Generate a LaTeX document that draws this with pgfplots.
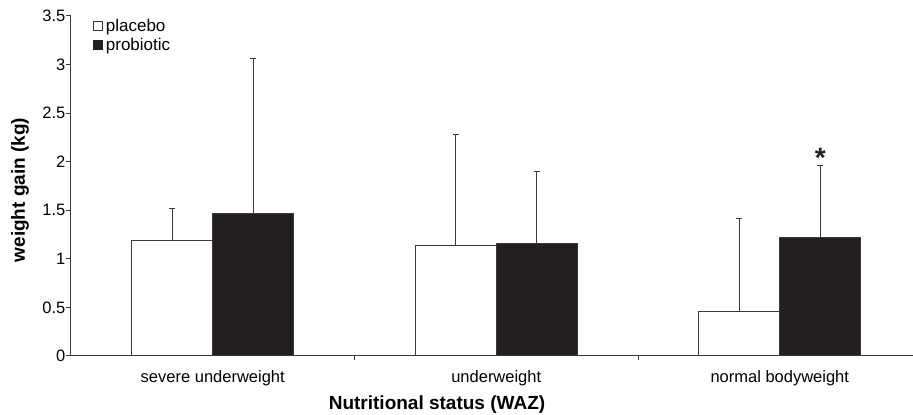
\documentclass[border=0pt]{standalone}
\usepackage{pgfplots}
\pgfplotsset{compat=1.18}
\usepackage{fontspec}
\setmainfont{Liberation Sans}
\definecolor{dk}{HTML}{231F20}
\definecolor{ax}{HTML}{3A3A3A}
\begin{document}
\begin{tikzpicture}
\begin{axis}[
  scale only axis, width=842pt, height=340pt,
  xmin=-0.5, xmax=2.47, ymin=0, ymax=3.5,
  axis x line=bottom, axis y line=left,
  axis line style={-, ax, line width=1pt},
  ytick={0,0.5,1,1.5,2,2.5,3,3.5},
  xtick={0.5,1.5}, xticklabels={},
  extra x ticks={0,1,2},
  extra x tick labels={severe underweight, underweight, normal bodyweight},
  extra x tick style={major tick length=0pt, tick label style={yshift=-11pt}},
  tick align=outside, major tick length=4.5pt,
  tick style={ax, line width=1pt},
  /pgf/number format/assume math mode=true,
  ticklabel style={font=\fontsize{16.5}{19}\selectfont},
  yticklabel style={inner xsep=1pt},
  ybar=0pt, bar width=81pt,
  legend style={at={(rel axis cs:0.026,0.992)}, anchor=north west, draw=none, fill=none,
    inner sep=0pt, row sep=5pt, font=\fontsize{17}{19}\selectfont,
    nodes={inner xsep=3pt, inner ysep=0pt}},
  legend cell align=left,
]
\addplot[fill=white, draw=ax, line width=1pt,
  legend image code/.code={\draw[ax, fill=white, line width=0.8pt] (0pt,-4.5pt) rectangle (9pt,4.5pt);},
  error bars/.cd, y dir=plus, y explicit, error mark=-,
  error bar style={line width=1pt, ax},
  error mark options={rotate=90, ax, line width=1pt, mark size=3pt}]
  coordinates {(0,1.187) +- (0,0.327) (1,1.133) +- (0,1.147) (2,0.453) +- (0,0.961)};
\addlegendentry{placebo}
\addplot[fill=dk, draw=ax, line width=1pt,
  legend image code/.code={\draw[dk, fill=dk, line width=0.8pt] (0pt,-4.5pt) rectangle (9pt,4.5pt);},
  error bars/.cd, y dir=plus, y explicit, error mark=-,
  error bar style={line width=1pt, ax},
  error mark options={rotate=90, ax, line width=1pt, mark size=3pt}]
  coordinates {(0,1.465) +- (0,1.595) (1,1.157) +- (0,0.743) (2,1.218) +- (0,0.742)};
\addlegendentry{probiotic}
\node[anchor=base, font=\fontsize{28}{28}\selectfont\bfseries, text=dk, inner sep=0pt] at ([xshift=40.5pt]axis cs:2,1.94) {*};
\coordinate (BL) at (rel axis cs:0,0);
\coordinate (TR) at (rel axis cs:1,1);
\end{axis}
\node[font=\fontsize{19}{22}\selectfont\bfseries, text=black] at ([shift={(366pt,-49pt)}]BL) {Nutritional status (WAZ)};
\node[rotate=90, font=\fontsize{19}{22}\selectfont\bfseries, text=black] at ([shift={(-51pt,166pt)}]BL) {weight gain (kg)};
\pgfresetboundingbox
\path ([shift={(-71pt,-59pt)}]BL) rectangle ([shift={(0pt,16pt)}]TR);
\end{tikzpicture}
\end{document}
